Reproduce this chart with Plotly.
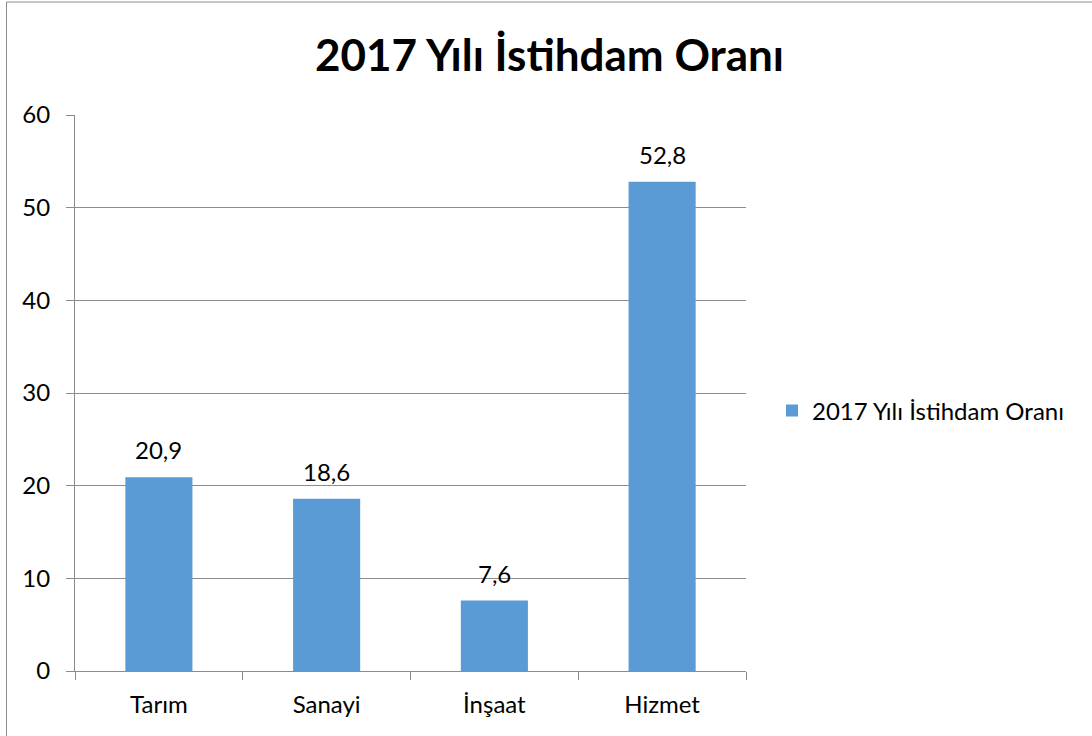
import plotly.graph_objects as go

categories = ["Tarım", "Sanayi", "İnşaat", "Hizmet"]
values = [20.9, 18.6, 7.6, 52.8]
series_name = "2017 Yılı İstihdam Oranı"
title_text = "2017 Yılı İstihdam Oranı"
y_ticks = [0, 10, 20, 30, 40, 50, 60]

W, H = 1092, 736
L, R, T, B = 75, 746, 115, 671
pw, ph = R - L, B - T

def px(x):
    return (x - L) / pw

def py(y):
    return (B - y) / ph

FONT = "Lato, Carlito, Calibri, sans-serif"
GRID = "#8c8c8c"

fig = go.Figure()
fig.add_trace(go.Bar(
    x=categories, y=values, name=series_name,
    marker=dict(color="#5B9BD5", line=dict(width=0)),
    showlegend=True,
))

annotations = [
    dict(x=c, y=v, xref="x", yref="y", text=f"{v:.1f}".replace(".", ","),
         showarrow=False, yanchor="bottom", xanchor="center", yshift=11,
         font=dict(size=24, family=FONT, color="#000000"))
    for c, v in zip(categories, values)
]

fig.update_layout(
    width=W, height=H,
    margin=dict(l=L, r=W - R, t=T, b=H - B, autoexpand=False),
    paper_bgcolor="white", plot_bgcolor="white",
    separators=",.",
    bargap=0.6,
    title=dict(text="<b>" + title_text + "</b>", x=549.5 / W, xanchor="center",
               y=1 - 56 / H, yanchor="middle",
               font=dict(size=44, family=FONT, color="#000000")),
    font=dict(family=FONT, size=24, color="#000000"),
    showlegend=True,
    legend=dict(x=px(772), y=py(411), xanchor="left", yanchor="middle",
                font=dict(size=24, family=FONT, color="#000000"),
                bgcolor="rgba(0,0,0,0)", itemwidth=30),
    xaxis=dict(type="category", showgrid=False, showline=True, linecolor=GRID, linewidth=1,
               ticks="outside", ticklen=8, tickcolor=GRID, tickson="boundaries",
               tickfont=dict(size=24, family=FONT, color="#000000"), ticklabelstandoff=12,
               fixedrange=True),
    yaxis=dict(range=[0, 60], tickvals=y_ticks, showgrid=True, gridcolor=GRID, gridwidth=1,
               showline=True, linecolor=GRID, linewidth=1, ticks="outside", ticklen=8,
               tickcolor=GRID, zeroline=False,
               tickfont=dict(size=24, family=FONT, color="#000000"), ticklabelstandoff=11),
    annotations=annotations,
    shapes=[
        dict(type="line", xref="paper", yref="paper", x0=px(6.5), x1=px(6.5),
             y0=py(740), y1=py(2), line=dict(color="#8c8c8c", width=1), layer="below"),
        dict(type="line", xref="paper", yref="paper", x0=px(6.5), x1=px(1095),
             y0=py(2), y1=py(2), line=dict(color="#8c8c8c", width=1), layer="below"),
    ],
)

fig.write_html("out.html", config={"displayModeBar": False},
               post_script="document.body.style.margin='0';document.body.style.overflow='hidden';")
